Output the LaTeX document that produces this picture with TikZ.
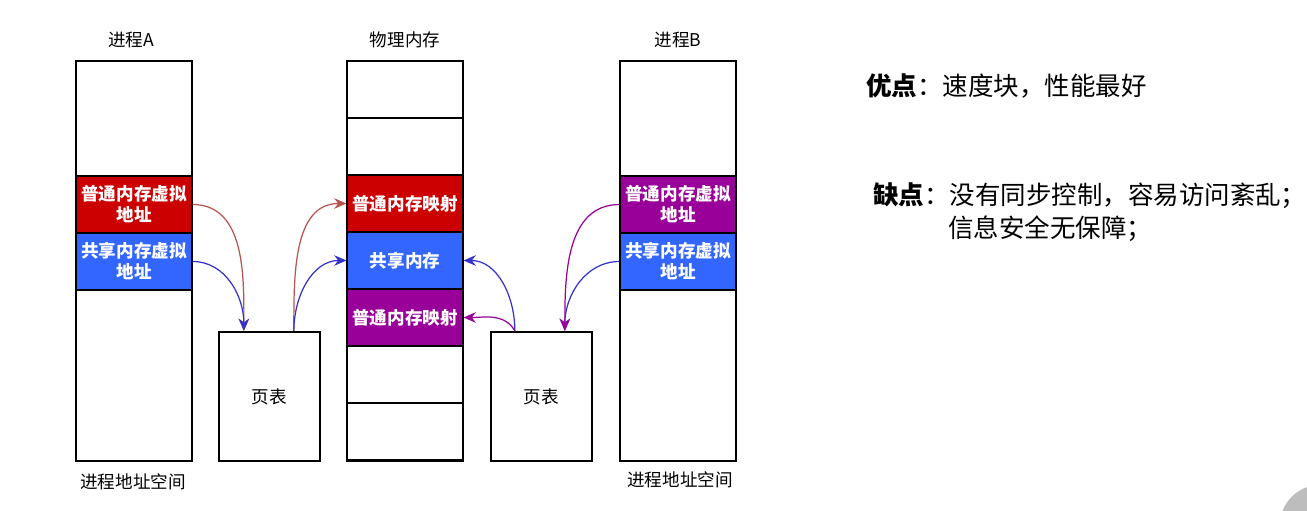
\documentclass[tikz,border=0pt]{standalone}
\usepackage{fontspec}
\setmainfont{Noto Sans CJK SC}
\usetikzlibrary{arrows.meta}

\definecolor{cellred}{HTML}{CC0000}
\definecolor{cellblue}{HTML}{3366FF}
\definecolor{cellpurple}{HTML}{990099}
\definecolor{arrred}{HTML}{B85450}
\definecolor{arrblue}{HTML}{3333CC}
\definecolor{cornergray}{HTML}{BDBDBD}

\tikzset{
    column/.style={draw, line width=1.3pt, minimum width=2.32cm, minimum height=8cm, inner sep=0pt},
    cell/.style={draw, line width=0.6pt, minimum width=2.32cm, minimum height=1.14cm, inner sep=0pt,
        align=center, text=white, font=\fontsize{10}{12}\selectfont\bfseries},
    table/.style={draw, line width=1.3pt, minimum width=2.02cm, minimum height=2.58cm, inner sep=0pt,
        font=\fontsize{10}{12}\selectfont},
    title/.style={font=\fontsize{10}{12}\selectfont},
    note/.style={anchor=west, inner sep=0pt, font=\fontsize{14.5}{18}\selectfont},
    link/.style={line width=0.7pt, -{Stealth[length=7pt,width=6pt]}}
}

\begin{document}
\begin{tikzpicture}[x=0.02cm, y=-0.02cm]

    \useasboundingbox (0,0) rectangle (1307,510);

    % corner of the player button
    \fill[cornergray] (1320,525) circle (40);

    % physical memory, 7 cells
    \def \h {57}
    \foreach \i/\c/\t in {0/white/, 1/white/, 2/cellred/普通内存映射, 3/cellblue/共享内存,
                          4/cellpurple/普通内存映射, 5/white/, 6/white/}
    {
        \node[cell, fill=\c] (M\i) at (405, {61+\h*\i+\h/2}) {\t};
    }
    \node[column] (M) at (405,261) {};
    \node[title] (Mtitle) at (405,40) {物理内存};

    % process A
    \node[cell, fill=cellred] (Ared) at (134,204.5) {普通内存虚拟\\地址};
    \node[cell, fill=cellblue] (Ablue) at (134,261.5) {共享内存虚拟\\地址};
    \node[column] (A) at (134,261) {};
    \node[title] (Atitle) at (131,40) {进程A};
    \node[title] (Aspace) at (133,482) {进程地址空间};

    % process B
    \node[cell, fill=cellpurple] (Bpurple) at (678,204.5) {普通内存虚拟\\地址};
    \node[cell, fill=cellblue] (Bblue) at (678,261.5) {共享内存虚拟\\地址};
    \node[column] (B) at (678,261) {};
    \node[title] (Btitle) at (678,40) {进程B};
    \node[title] (Bspace) at (680,480) {进程地址空间};

    % page tables
    \node[table] (PTA) at (269.5,396.5) {页表};
    \node[table] (PTB) at (541.5,396.5) {页表};

    \coordinate (PTAin) at ([xshift=0.52cm]PTA.north west);
    \coordinate (PTAout) at ([xshift=1.52cm]PTA.north west);
    \coordinate (PTBout) at ([xshift=0.5cm]PTB.north west);
    \coordinate (PTBin) at ([xshift=1.5cm]PTB.north west);

    % A -> page table -> memory
    \draw[link, arrred] (Ared.east) to[out=0, in=90] (PTAin);
    \draw[link, arrblue] (Ablue.east) to[out=0, in=90] (PTAin);
    \draw[link, arrred] (PTAout) to[out=90, in=180] (M2.west);
    \draw[link, arrblue] (PTAout) to[out=90, in=180] (M3.west);

    % B -> page table -> memory
    \draw[link, arrblue] (Bblue.west) to[out=180, in=90] (PTBin);
    \draw[link, cellpurple] (Bpurple.west) to[out=180, in=90] (PTBin);
    \draw[link, arrblue] (PTBout) to[out=90, in=0] (M3.east);
    \draw[link, cellpurple] (PTBout) to[out=120, in=0] (M4.east);

    % notes
    \node[note] (pros) at (866,86) {\textbf{优点}：速度块，性能最好};
    \node[note] (cons) at (873,196) {\textbf{缺点}：没有同步控制，容易访问紊乱；};
    \node[note] (cons2) at (948,229) {信息安全无保障；};

\end{tikzpicture}
\end{document}
